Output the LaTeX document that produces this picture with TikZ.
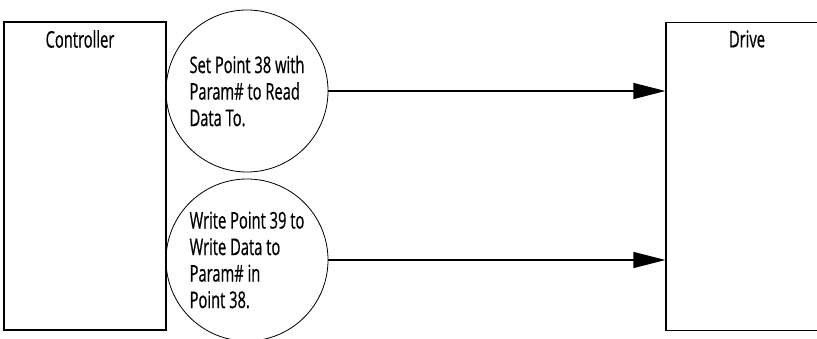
\documentclass[tikz,border=0pt]{standalone}
\usepackage{fontspec}
\setmainfont[FakeStretch=0.64,FakeBold=0.6]{Open Sans}
\usetikzlibrary{arrows.meta}
\tikzset{flow/.style={-{Triangle[length=32pt,width=16pt]},line width=1.2pt},
 every node/.style={font=\fontsize{23}{26.5}\selectfont}}

\begin{document}
\begin{tikzpicture}[x=1pt,y=-1pt,
 unit/.style={draw,line width=1.2pt,minimum width=162pt,minimum height=308pt,inner sep=0pt},
 msg/.style={draw,circle,line width=0.8pt,minimum size=162pt,inner sep=0pt,align=left}]
\useasboundingbox (0,0) rectangle (817,339);
\node[unit] (ctrl) at (85,176) {};
\node (ctrltext) at (80,39) {Controller};
\node[unit] (drive) at (747,176.5) {};
\node (drivetext) at (747,39) {Drive};
\node[msg] (setpt) at (247,91) {Set Point 38 with\\Param\# to Read\\Data To.};
\node[msg] (writept) at (247,260) {Write Point 39 to\\Write Data to\\Param\# in\\Point 38.};
\draw[flow] (setpt.east) -- (setpt.east -| drive.west);
\draw[flow] (writept.east) -- (writept.east -| drive.west);
\end{tikzpicture}
\end{document}
